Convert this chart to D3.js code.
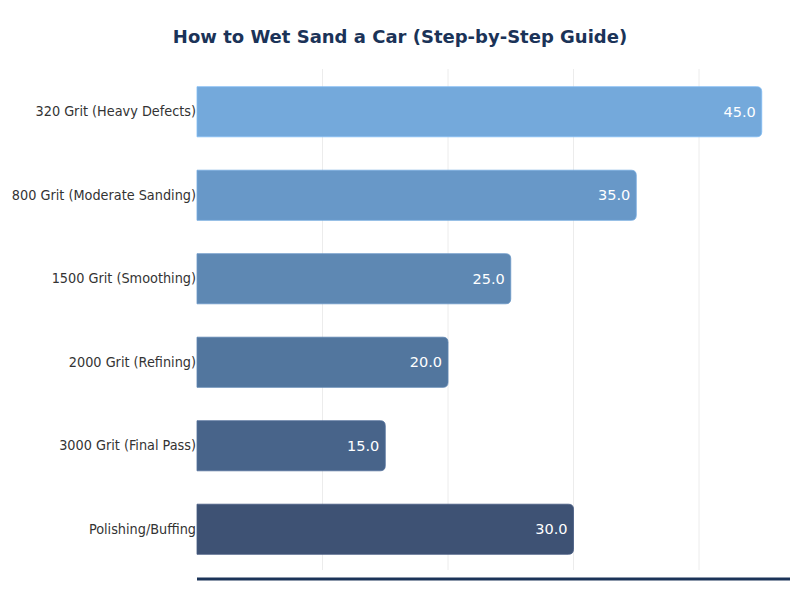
<!DOCTYPE html>
<html><head><meta charset="utf-8">
<script src="https://cdn.jsdelivr.net/npm/d3@7"></script>
<style>body{margin:0;background:#fff;font-family:"DejaVu Sans",sans-serif;}</style>
</head><body><svg id="c" width="800" height="600"></svg>
<script>
const categories = ["320 Grit (Heavy Defects)","800 Grit (Moderate Sanding)","1500 Grit (Smoothing)","2000 Grit (Refining)","3000 Grit (Final Pass)","Polishing/Buffing"];
const values = [45,35,25,20,15,30];
const colors = ["#74a9db","#6898c8","#5e88b3","#52769e","#48648a","#3e5274"];
const gridTicks = [10,20,30,40];

const svg = d3.select("#c");
const m = {left:197, right:10, top:70};
const W = 800, H = 600;
const x = d3.scaleLinear().domain([0, d3.max(values)*1.05]).range([m.left, W - m.right]);
const y = d3.scaleBand().domain(categories).range([m.top, 571]).paddingInner(0.4).paddingOuter(0.2);

svg.append("text").attr("x",400).attr("y",43).attr("text-anchor","middle")
  .attr("font-size",18).attr("font-weight","bold").attr("fill","#1b3358")
  .text("How to Wet Sand a Car (Step-by-Step Guide)");

svg.append("g").selectAll("line").data(gridTicks).join("line")
  .attr("x1",d=>x(d)).attr("x2",d=>x(d)).attr("y1",69).attr("y2",570)
  .attr("stroke","#ececec").attr("stroke-width",1);

const r = 5;
svg.append("g").selectAll("path").data(categories).join("path")
  .attr("d",(c,i)=>{
    const x0 = x(0), x1 = x(values[i]), y0 = y(c), h = y.bandwidth();
    return `M${x0},${y0}H${x1-r}Q${x1},${y0} ${x1},${y0+r}V${y0+h-r}Q${x1},${y0+h} ${x1-r},${y0+h}H${x0}Z`;
  })
  .attr("fill",(c,i)=>colors[i]).attr("stroke",(c,i)=>d3.color(colors[i]).brighter(0.3)).attr("stroke-width",0.8);

svg.append("g").selectAll("text").data(categories).join("text")
  .attr("x",(c,i)=>x(values[i])-6)
  .attr("y",c=>y(c)+y.bandwidth()/2).attr("dy","0.35em")
  .attr("text-anchor","end").attr("font-size",14.5).attr("fill","#fff")
  .text((c,i)=>values[i].toFixed(1));

const ya = d3.axisLeft(y).tickSize(0).tickPadding(1);
const gy = svg.append("g").attr("transform",`translate(${m.left},0)`).call(ya);
gy.select(".domain").remove();
gy.selectAll("text").attr("font-size",14.3).attr("fill","#333").attr("font-family","'DejaVu Sans Condensed','DejaVu Sans'");

svg.append("line").attr("x1",x(0)).attr("x2",W-10).attr("y1",579).attr("y2",579)
  .attr("stroke","#1b3358").attr("stroke-width",3);
</script></body></html>
